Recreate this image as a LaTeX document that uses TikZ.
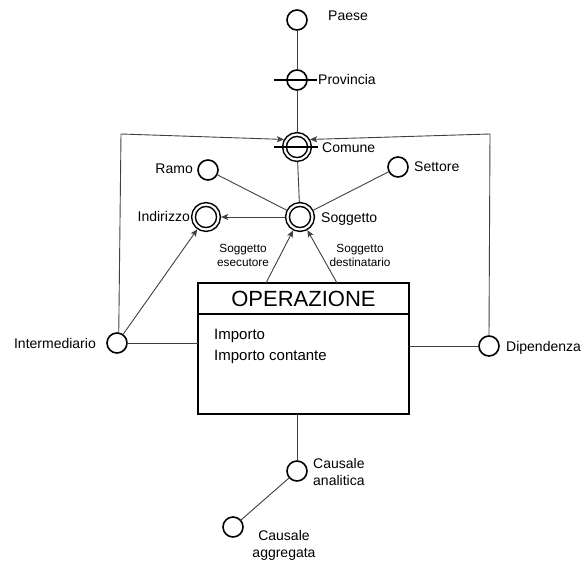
\documentclass[tikz,border=0pt]{standalone}
\usepackage{fontspec}
\setmainfont{Liberation Sans}
\usepackage{tikz}
\usetikzlibrary{arrows.meta, positioning, calc}

\tikzset{
  attr/.style={circle, draw, line width=1.6pt, minimum size=20pt, inner sep=0pt, outer sep=0pt},
  idattr/.style={circle, draw, double, line width=1.5pt, double distance=2.2pt, minimum size=25pt, inner sep=0pt, outer sep=2.6pt},
  lbl/.style={inner sep=0pt, font=\fontsize{14}{17}\selectfont},
  rolelbl/.style={inner sep=0pt, align=center, font=\fontsize{11.8}{14}\selectfont},
  conn/.style={line width=0.9pt, black!75},
  bar/.style={line width=1.6pt},
  box/.style={draw, line width=1.2pt, minimum width=211pt, inner sep=0pt, outer sep=0pt},
}

\begin{document}
\begin{tikzpicture}[x=1pt, y=-1pt, >={Stealth[length=7pt, width=6pt, inset=1.5pt]}]
      \useasboundingbox (0,0) rectangle (584,564);

      % attributes
      \node [attr] (PA) at (297,20) {};
      \node [attr] (PR) at (297,80) {};
      \node [idattr] (CO) at (297,147) {};
      \node [attr] (RA) at (208,170) {};
      \node [attr] (SE) at (398,167) {};
      \node [idattr] (SO) at (300,217) {};
      \node [idattr] (IN) at (206,217) {};
      \node [attr] (IM) at (117,343) {};
      \node [attr] (DI) at (489,346) {};
      \node [attr] (CA) at (297,471) {};
      \node [attr] (CG) at (233,527) {};

      \draw [bar] ($(PR)+(-23,0)$) -- ($(PR)+(20,0)$);
      \draw [bar] ($(CO)+(-23,0)$) -- ($(CO)+(21,0)$);

      % labels
      \node [lbl, anchor=base west] (PAL) at (328,21) {Paese};
      \node [lbl, anchor=base west] (PRL) at (318,85) {Provincia};
      \node [lbl, anchor=base west] (COL) at (322,153) {Comune};
      \node [lbl, anchor=base east] (RAL) at (193,174) {Ramo};
      \node [lbl, anchor=base west] (SEL) at (414,172) {Settore};
      \node [lbl, anchor=base west] (SOL) at (321,223) {Soggetto};
      \node [lbl, anchor=base east] (INL) at (190,222) {Indirizzo};
      \node [lbl, anchor=base east] (IML) at (96,348) {Intermediario};
      \node [lbl, anchor=base west] (DIL) at (506,352) {Dipendenza};
      \node [lbl, anchor=north west, align=left] (CAL) at (313,458) {Causale\\analitica};
      \node [lbl, anchor=north, align=center] (CGL) at (284,530) {Causale\\aggregata};

      % entity
      \node [box, minimum height=31pt, font=\fontsize{22}{26}\selectfont] (OP) at (303.5,298.5) {OPERAZIONE};
      \node [box, minimum height=100pt, anchor=north] (BODY) at (OP.south) {};
      \node [anchor=north west, align=left, inner sep=0pt, font=\fontsize{15}{21}\selectfont] (ATT) at (214,329) {Importo\\Importo contante};

      \node [rolelbl, anchor=north] (RE) at (243,244) {Soggetto\\esecutore};
      \node [rolelbl, anchor=north] (RD) at (360,244) {Soggetto\\destinatario};

      % connectors
      \draw [conn] (PA) -- (PR);
      \draw [conn] (PR) -- (CO);
      \draw [conn] (CO) -- (SO);
      \draw [conn] (RA) -- (SO);
      \draw [conn] (SE) -- (SO);
      \draw [conn, ->] (SO) -- (IN);
      \draw [conn, ->] ([xshift=-37.5pt]OP.north) -- (SO);
      \draw [conn, ->] ([xshift=33.5pt]OP.north) -- (SO);
      \draw [conn, ->] (IM) -- (IN);
      \draw [conn] (IM) -- (IM -| BODY.west);
      \draw [conn] (DI) -- (DI -| BODY.east);
      \draw [conn] (BODY.south -| CA) -- (CA);
      \draw [conn] (CA) -- (CG);

      \coordinate (LC) at (121,134);
      \coordinate (RC) at (490,134);
      \draw [conn, ->] (IM.80) -- (LC) -- (CO.150);
      \draw [conn, ->] (DI.north) -- (RC) -- (CO.30);
    \end{tikzpicture}
\end{document}
